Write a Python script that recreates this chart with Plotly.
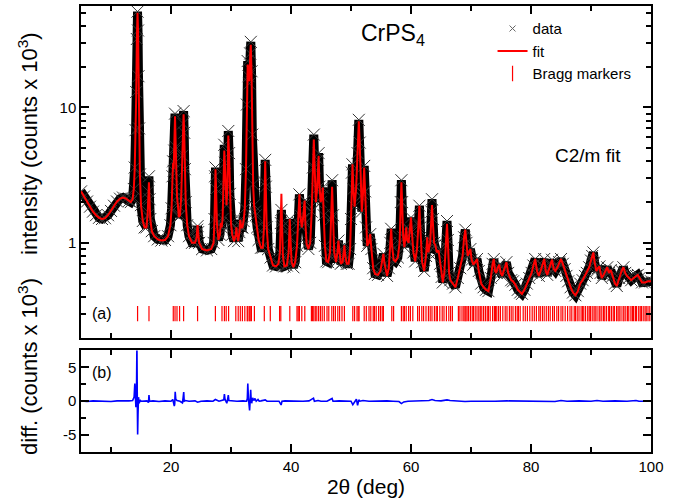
import plotly.graph_objects as go

# ---------------- data ----------------
two_theta = [
    5.0, 5.5, 6.0, 6.5, 7.0, 7.5, 8.0, 8.5, 9.0, 9.5,
    10.0, 10.5, 11.0, 11.5, 12.0, 12.5, 13.0, 13.3, 13.6, 13.8,
    13.95, 14.1, 14.2, 14.3, 14.42, 14.5, 14.58, 14.68, 14.82, 15.0,
    15.3, 15.6, 15.9, 16.1, 16.22, 16.32, 16.42, 16.55, 16.8, 17.2,
    17.8, 18.4, 19.0, 19.5, 19.9, 20.1, 20.25, 20.35, 20.45, 20.55,
    20.67, 20.8, 20.9, 21.0, 21.15, 21.3, 21.5, 21.7, 21.9, 22.0,
    22.1, 22.2, 22.3, 22.45, 22.7, 23.0, 23.5, 24.0, 24.25, 24.35,
    24.43, 24.52, 24.7, 25.2, 26.0, 26.7, 27.1, 27.25, 27.35, 27.42,
    27.52, 27.65, 27.9, 28.15, 28.3, 28.45, 28.6, 28.75, 28.88, 28.98,
    29.1, 29.25, 29.4, 29.55, 29.68, 29.8, 30.0, 30.2, 30.5, 30.8,
    30.9, 31.0, 31.2, 31.4, 31.55, 31.7, 31.9, 32.1, 32.3, 32.5,
    32.65, 32.78, 32.92, 33.05, 33.2, 33.3, 33.42, 33.55, 33.7, 33.85,
    34.0, 34.15, 34.35, 34.6, 35.0, 35.3, 35.5, 35.62, 35.7, 35.8,
    35.95, 36.2, 36.6, 37.0, 37.5, 37.9, 38.15, 38.3, 38.4, 38.5,
    38.65, 38.9, 39.3, 39.6, 39.72, 39.8, 39.9, 40.1, 40.4, 40.7,
    41.0, 41.2, 41.4, 41.55, 41.8, 42.0, 42.15, 42.27, 42.4, 42.6,
    42.9, 43.2, 43.45, 43.65, 43.8, 43.95, 44.15, 44.35, 44.5, 44.6,
    44.75, 44.95, 45.15, 45.3, 45.45, 45.65, 45.9, 46.2, 46.5, 46.7,
    46.85, 47.0, 47.2, 47.5, 47.75, 47.9, 48.05, 48.3, 48.6, 48.8,
    48.9, 49.05, 49.3, 49.6, 49.85, 50.0, 50.15, 50.25, 50.4, 50.6,
    50.85, 51.1, 51.3, 51.45, 51.65, 51.8, 52.0, 52.2, 52.35, 52.5,
    52.7, 52.95, 53.2, 53.4, 53.7, 54.0, 54.5, 54.9, 55.2, 55.4,
    55.6, 56.0, 56.3, 56.55, 56.7, 56.85, 57.1, 57.4, 57.8, 58.1,
    58.3, 58.4, 58.52, 58.7, 58.9, 59.1, 59.2, 59.35, 59.6, 59.8,
    60.0, 60.15, 60.4, 60.7, 61.0, 61.25, 61.4, 61.55, 61.85, 62.2,
    62.5, 62.7, 62.9, 63.2, 63.4, 63.5, 63.65, 63.85, 64.05, 64.3,
    64.6, 64.85, 65.1, 65.3, 65.55, 65.8, 66.0, 66.15, 66.35, 66.55,
    67.0, 67.4, 67.8, 68.2, 68.6, 68.85, 69.05, 69.25, 69.45, 69.6,
    69.9, 70.1, 70.4, 70.7, 71.0, 71.3, 71.7, 72.1, 72.5, 72.9,
    73.3, 73.6, 73.8, 74.0, 74.2, 74.5, 74.7, 74.95, 75.2, 75.6,
    75.9, 76.2, 76.7, 77.0, 77.4, 77.8, 78.2, 78.5, 78.9, 79.3,
    79.7, 80.1, 80.4, 80.7, 81.0, 81.3, 81.6, 81.9, 82.2, 82.45,
    82.7, 83.0, 83.25, 83.5, 83.8, 84.05, 84.4, 84.7, 85.0, 85.3,
    85.6, 85.9, 86.2, 86.6, 87.0, 87.4, 87.8, 88.2, 88.6, 89.0,
    89.3, 89.7, 90.0, 90.2, 90.4, 90.6, 90.9, 91.15, 91.4, 91.6,
    91.8, 92.1, 92.4, 92.7, 93.0, 93.3, 93.6, 94.0, 94.3, 94.7,
    95.1, 95.4, 95.7, 96.0, 96.3, 96.7, 97.1, 97.5, 97.8, 98.1,
    98.5, 99.0, 99.5, 100.0,
]

y_calc = [
    2.40, 2.20, 2.02, 1.85, 1.70, 1.60, 1.53, 1.50, 1.52, 1.60,
    1.72, 1.88, 2.02, 2.12, 2.16, 2.12, 2.04, 2.00, 2.10, 2.50,
    3.5, 6.5, 12.0, 30.0, 50.0, 38.0, 18.0, 7.0, 3.2, 1.9,
    1.45, 1.30, 1.30, 1.60, 2.30, 2.80, 2.10, 1.50, 1.22, 1.12,
    1.06, 1.04, 1.05, 1.12, 1.35, 1.80, 3.0, 3.9, 3.5, 5.0,
    8.6, 5.0, 2.6, 2.2, 1.9, 1.55, 1.6, 2.2, 4.5, 7.5,
    8.9, 6.5, 3.5, 2.0, 1.35, 1.12, 1.0, 1.0, 1.08, 1.25,
    1.35, 1.2, 1.0, 0.90, 0.88, 0.90, 1.0, 1.5, 3.0, 3.5,
    2.5, 1.4, 1.05, 1.15, 1.4, 1.3, 1.5, 2.5, 4.8, 3.8,
    2.2, 1.9, 2.6, 6.2, 4.5, 2.3, 1.4, 1.15, 1.03, 1.15,
    1.3, 1.15, 1.03, 1.2, 1.48, 1.3, 1.3, 1.45, 1.8, 3.5,
    10.0, 20.7, 17.0, 15.6, 24.0, 29.0, 18.0, 6.0, 2.6, 1.9,
    1.65, 1.6, 1.3, 1.05, 0.92, 0.92, 1.3, 2.8, 4.0, 2.6,
    1.3, 0.9, 0.78, 0.68, 0.67, 0.70, 0.85, 1.6, 2.3, 1.4,
    0.8, 0.67, 0.68, 0.85, 1.3, 1.5, 1.1, 0.72, 0.66, 0.72,
    0.95, 1.4, 2.28, 1.6, 1.3, 1.5, 1.9, 2.05, 1.4, 0.98,
    0.9, 1.0, 1.7, 3.5, 5.8, 3.5, 2.0, 2.5, 4.0, 4.4,
    2.6, 2.0, 2.2, 2.56, 1.6, 0.95, 0.73, 0.72, 0.85, 1.5,
    2.6, 1.6, 0.85, 0.72, 0.85, 1.04, 0.85, 0.70, 0.72, 0.85,
    0.96, 0.8, 0.7, 0.70, 0.9, 1.5, 3.3, 3.8, 2.5, 1.85,
    2.5, 5.0, 7.9, 5.5, 2.2, 1.7, 2.3, 3.6, 2.4, 1.3,
    0.95, 1.0, 1.16, 0.9, 0.65, 0.59, 0.58, 0.62, 0.75, 0.83,
    0.70, 0.57, 0.65, 1.0, 1.27, 0.95, 0.75, 0.73, 0.78, 1.0,
    2.0, 2.8, 2.0, 1.1, 0.93, 1.1, 1.3, 1.05, 1.0, 1.25,
    1.54, 1.2, 0.85, 0.73, 0.9, 1.4, 1.88, 1.3, 0.72, 0.62,
    0.8, 1.1, 0.85, 1.0, 1.6, 1.9, 1.4, 1.0, 0.96, 0.85,
    0.88, 0.70, 0.56, 0.51, 0.6, 0.9, 1.38, 1.0, 0.6, 0.53,
    0.5, 0.47, 0.55, 0.65, 0.8, 1.1, 1.25, 1.0, 0.8, 0.83,
    0.9, 0.75, 0.69, 0.72, 0.76, 0.62, 0.5, 0.47, 0.45, 0.44,
    0.55, 0.7, 0.76, 0.62, 0.6, 0.66, 0.69, 0.6, 0.57, 0.65,
    0.72, 0.6, 0.53, 0.52, 0.49, 0.45, 0.43, 0.42, 0.45, 0.5,
    0.55, 0.6, 0.68, 0.76, 0.62, 0.57, 0.62, 0.68, 0.76, 0.62,
    0.58, 0.64, 0.7, 0.75, 0.64, 0.62, 0.66, 0.72, 0.76, 0.7,
    0.64, 0.57, 0.52, 0.47, 0.43, 0.41, 0.44, 0.5, 0.53, 0.57,
    0.6, 0.66, 0.74, 0.80, 0.85, 0.72, 0.62, 0.65, 0.67, 0.6,
    0.55, 0.58, 0.62, 0.66, 0.6, 0.63, 0.57, 0.5, 0.48, 0.55,
    0.62, 0.66, 0.6, 0.57, 0.55, 0.53, 0.55, 0.57, 0.58, 0.55,
    0.51, 0.51, 0.52, 0.52,
]

y_obs = [
    2.40, 2.20, 2.02, 1.85, 1.70, 1.60, 1.53, 1.50, 1.52, 1.60,
    1.72, 1.88, 2.02, 2.12, 2.16, 2.12, 2.04, 2.00, 2.10, 2.50,
    3.6, 6.8, 13.0, 32.0, 51.0, 37.0, 17.0, 7.0, 3.2, 1.9,
    1.45, 1.30, 1.30, 1.60, 2.40, 3.10, 2.10, 1.50, 1.22, 1.12,
    1.06, 1.04, 1.05, 1.12, 1.35, 1.80, 3.1, 4.0, 3.4, 4.8,
    9.0, 5.1, 2.6, 2.2, 1.9, 1.55, 1.6, 2.2, 4.4, 7.6,
    9.4, 6.5, 3.5, 2.0, 1.35, 1.12, 1.0, 1.0, 1.08, 1.25,
    1.33, 1.2, 1.0, 0.90, 0.88, 0.90, 1.0, 1.5, 3.1, 3.6,
    2.5, 1.4, 1.05, 1.15, 1.4, 1.3, 1.5, 2.6, 5.3, 3.9,
    2.2, 1.9, 2.6, 6.7, 4.6, 2.3, 1.4, 1.15, 1.03, 1.15,
    1.3, 1.15, 1.03, 1.2, 1.48, 1.3, 1.3, 1.45, 1.8, 3.5,
    10.5, 22.0, 17.0, 15.0, 25.0, 30.5, 18.5, 6.3, 2.7, 1.9,
    1.7, 1.6, 1.3, 1.05, 0.92, 0.92, 1.3, 2.8, 4.1, 2.6,
    1.3, 0.9, 0.78, 0.68, 0.67, 0.70, 0.85, 1.4, 1.75, 1.3,
    0.8, 0.67, 0.68, 0.85, 1.3, 1.5, 1.1, 0.72, 0.66, 0.72,
    0.95, 1.4, 2.28, 1.6, 1.3, 1.5, 1.9, 2.05, 1.4, 0.98,
    0.9, 1.0, 1.7, 3.6, 6.3, 3.6, 2.0, 2.5, 4.1, 4.6,
    2.6, 2.0, 2.2, 2.56, 1.6, 0.95, 0.73, 0.72, 0.85, 1.5,
    2.9, 1.6, 0.85, 0.72, 0.85, 1.04, 0.85, 0.70, 0.72, 0.85,
    0.96, 0.8, 0.7, 0.70, 0.9, 1.5, 3.3, 3.8, 2.5, 1.85,
    2.6, 4.6, 8.1, 5.5, 2.2, 1.7, 2.3, 3.7, 2.4, 1.3,
    0.95, 1.0, 1.16, 0.9, 0.65, 0.59, 0.58, 0.62, 0.75, 0.83,
    0.70, 0.57, 0.65, 1.0, 1.27, 0.95, 0.75, 0.73, 0.78, 1.0,
    2.0, 2.9, 2.0, 1.1, 0.93, 1.1, 1.3, 1.05, 1.0, 1.25,
    1.54, 1.2, 0.85, 0.73, 0.9, 1.4, 1.88, 1.3, 0.72, 0.62,
    0.8, 1.1, 0.85, 1.0, 1.7, 2.1, 1.5, 1.0, 0.96, 0.85,
    0.88, 0.70, 0.56, 0.51, 0.6, 0.95, 1.45, 1.05, 0.6, 0.53,
    0.5, 0.47, 0.55, 0.65, 0.8, 1.1, 1.25, 1.0, 0.8, 0.83,
    0.9, 0.75, 0.69, 0.72, 0.76, 0.62, 0.5, 0.47, 0.45, 0.44,
    0.55, 0.7, 0.76, 0.62, 0.6, 0.66, 0.69, 0.6, 0.57, 0.65,
    0.72, 0.6, 0.53, 0.52, 0.49, 0.45, 0.43, 0.42, 0.45, 0.5,
    0.55, 0.6, 0.68, 0.76, 0.62, 0.57, 0.62, 0.68, 0.76, 0.62,
    0.58, 0.64, 0.7, 0.75, 0.64, 0.62, 0.66, 0.72, 0.76, 0.7,
    0.64, 0.57, 0.52, 0.47, 0.43, 0.41, 0.44, 0.5, 0.53, 0.57,
    0.6, 0.66, 0.74, 0.80, 0.85, 0.72, 0.62, 0.65, 0.67, 0.6,
    0.55, 0.58, 0.62, 0.66, 0.6, 0.63, 0.57, 0.5, 0.48, 0.55,
    0.62, 0.66, 0.6, 0.57, 0.55, 0.53, 0.55, 0.57, 0.58, 0.55,
    0.51, 0.51, 0.52, 0.52,
]

bragg_pos = [
    14.43, 16.33, 20.38, 20.67, 21.0, 21.43, 22.1, 24.43,
    27.4, 28.5, 28.9, 29.2, 29.6, 30.8, 31.2, 31.55, 31.9, 32.3, 32.7, 32.8,
    33.05, 33.2, 33.4, 33.9, 35.55, 36.55, 38.1, 38.3, 39.8, 41.0, 41.2,
    41.4, 41.8, 42.3, 43.4, 43.6, 43.8, 44.05, 44.3, 44.6, 44.9, 45.2,
    45.55, 46.0, 46.3, 46.8, 47.1, 47.4, 47.8, 48.1, 48.5, 48.9,
    50.3, 50.6, 51.0, 51.2, 51.35, 52.2, 52.55, 53.0, 53.3, 53.7, 53.9,
    54.2, 54.6, 54.9, 55.2, 55.4, 56.8, 57.1, 58.4, 58.7, 58.9, 59.2,
    59.6, 59.9, 60.3, 61.1, 61.4, 61.8, 62.1, 62.5, 62.9, 63.2, 63.5,
    63.9, 64.2, 64.4, 64.8, 65.2, 65.5, 65.9, 66.3, 66.6, 66.9,
    67.9, 68.15, 68.5, 68.8, 69.0, 69.15, 69.35, 69.6, 69.9, 70.2, 70.4,
    70.7, 71.0, 71.3, 71.55, 71.8, 72.1, 72.4, 72.7, 72.9, 73.2, 73.6,
    73.9, 74.1, 74.3, 74.6, 74.9, 75.3, 75.7, 76.0, 76.4, 76.7, 77.0,
    77.4, 77.7, 77.9, 78.2, 78.7, 79.05, 79.4, 79.8, 80.2, 80.55, 80.9,
    81.3, 81.55, 81.9, 82.2, 82.55, 82.9, 83.2, 83.6, 83.9, 84.3, 84.6,
    85.0, 85.3, 85.7, 86.1, 86.5, 86.8, 87.2, 87.4, 87.7, 88.0, 88.35,
    88.6, 88.8, 89.1, 89.45, 89.7, 89.9, 90.2, 90.5, 90.7, 91.0, 91.35,
    91.5, 91.8, 92.1, 92.3, 92.6, 92.95, 93.1, 93.4, 93.7, 93.9, 94.25,
    94.5, 94.7, 95.0, 95.35, 95.5, 95.8, 96.1, 96.3, 96.65, 96.9, 97.1,
    97.4, 97.6, 97.95, 98.2, 98.4, 98.7, 99.0, 99.2, 99.5, 99.8,
]

diff_theta = [
    5.0, 6.0, 7.0, 8.0, 9.0, 10.0, 11.0, 12.0, 13.0, 13.6,
    13.85, 13.97, 14.05, 14.15, 14.25, 14.32, 14.38, 14.44, 14.5, 14.58,
    14.7, 14.85, 15.0, 16.0, 16.25, 16.33, 16.42, 17.0, 18.0, 19.0,
    20.0, 20.3, 20.55, 20.62, 20.7, 20.8, 21.0, 21.5, 21.9, 22.02,
    22.12, 22.2, 22.4, 23.0, 24.0, 24.43, 25.0, 26.0, 27.0, 27.4,
    28.0, 28.8, 28.9, 29.0, 29.3, 29.42, 29.55, 29.65, 30.0, 31.0,
    32.0, 32.6, 32.72, 32.8, 32.9, 33.0, 33.1, 33.2, 33.28, 33.35,
    33.45, 33.6, 33.8, 34.0, 34.2, 34.5, 34.7, 35.0, 35.7, 36.0,
    37.0, 38.0, 38.35, 38.5, 39.0, 40.0, 41.0, 42.0, 43.0, 43.75,
    43.9, 44.5, 45.0, 46.0, 46.85, 47.0, 48.0, 49.0, 50.0, 50.3,
    50.5, 50.9, 51.1, 51.3, 51.5, 52.0, 53.0, 54.0, 55.0, 56.0,
    57.0, 58.0, 58.4, 58.8, 59.5, 60.0, 61.0, 62.0, 63.0, 63.5,
    64.0, 65.0, 66.0, 66.5, 67.0, 68.0, 69.0, 70.0, 72.0, 74.0,
    76.0, 78.0, 80.0, 82.0, 84.0, 85.0, 86.0, 88.0, 90.0, 91.0,
    92.0, 94.0, 96.0, 97.5, 98.0, 100.0,
]

diff_vals = [
    0.05, -0.05, 0.05, 0.0, 0.05, -0.05, 0.05, 0.0, 0.05, 0.1,
    0.6, 2.6, 0.6, -0.9, 1.2, 8.5, 0.5, -4.9, -2.0, 0.6,
    -0.3, 0.2, 0.0, 0.05, -0.2, 0.9, 0.0, 0.05, -0.05, 0.05,
    0.0, 0.25, -0.7, -0.4, 1.4, 0.3, 0.1, 0.0, -0.25, 0.5,
    1.35, 0.0, 0.1, 0.0, 0.05, -0.15, 0.0, 0.05, 0.0, 0.25,
    0.0, 0.2, 1.05, 0.3, -0.3, 0.2, 0.9, 0.1, 0.05, 0.0,
    0.05, 0.0, 0.4, 2.6, 0.5, -0.4, -1.35, 0.2, 1.7, 0.3,
    -0.3, 0.5, 0.1, 0.4, 0.0, 0.25, 0.0, 0.05, 0.2, 0.0,
    0.05, 0.0, -0.55, 0.0, 0.05, 0.0, 0.05, 0.0, 0.05, 0.45,
    0.0, 0.1, 0.0, 0.0, 0.4, 0.0, 0.05, 0.0, 0.0, -0.5,
    -0.2, 0.3, -0.6, 0.2, 0.0, 0.1, 0.0, 0.05, 0.0, 0.05,
    0.0, -0.05, -0.35, -0.1, 0.0, 0.0, 0.05, 0.0, 0.1, 0.25,
    0.1, 0.05, 0.2, 0.1, 0.05, 0.0, -0.05, 0.0, -0.05, 0.0,
    0.05, 0.0, 0.05, 0.0, -0.05, 0.1, 0.0, 0.05, 0.0, 0.1,
    0.0, 0.05, 0.0, 0.1, 0.0, 0.0,
]

x_tick_vals = [20, 40, 60, 80, 100]
y_log_tick_vals = [1, 10]
y_log_tick_text = ["1", "10"]
y_log_minor_vals = [0.2, 0.3, 0.4, 0.5, 0.6, 0.7, 0.8, 0.9,
                    2, 3, 4, 5, 6, 7, 8, 9, 20, 30, 40, 50]
y_diff_tick_vals = [-5, 0, 5]
y_diff_tick_text = ["-5", "0", "5"]
y_diff_minor_vals = [-2.5, 2.5]

bragg_row = 0.30

# ---------------- figure ----------------
FONT = "Liberation Sans, Arial, Helvetica, sans-serif"

fig = go.Figure()

# legend-only entry for the data
fig.add_trace(go.Scatter(
    x=[None], y=[None], mode="markers", name="data",
    marker=dict(symbol="x-thin", size=6, color="#666",
                line=dict(width=1, color="#666")),
    xaxis="x2", yaxis="y2"))

# observed data (dense band of crosses)
fig.add_trace(go.Scatter(
    x=two_theta, y=y_obs, mode="lines+markers", showlegend=False,
    line=dict(color="#000", width=9),
    marker=dict(symbol="x-thin", size=12, color="#333",
                line=dict(width=1, color="#333")),
    xaxis="x2", yaxis="y2", hoverinfo="skip"))

# fit
fig.add_trace(go.Scatter(
    x=two_theta, y=y_calc, mode="lines", name="fit",
    line=dict(color="#ff0000", width=2),
    xaxis="x2", yaxis="y2"))

# Bragg markers
fig.add_trace(go.Scatter(
    x=bragg_pos, y=[bragg_row] * len(bragg_pos), mode="markers",
    name="Bragg markers",
    marker=dict(symbol="line-ns", size=11, color="#ff0000",
                line=dict(width=1.2, color="#ff0000")),
    xaxis="x2", yaxis="y2"))

# difference
fig.add_trace(go.Scatter(
    x=diff_theta, y=diff_vals, mode="lines", showlegend=False,
    line=dict(color="#0000ff", width=1.6),
    xaxis="x", yaxis="y"))

axis_common = dict(
    showline=True, linecolor="black", linewidth=1.5,
    ticks="inside", tickcolor="black", tickwidth=1.5,
    mirror="ticks", showgrid=False, zeroline=False,
    tickfont=dict(size=15, color="black", family=FONT),
)

top_dom = [0.2567, 1.0]
bot_dom = [0.0, 0.2277]

fig.update_layout(
    width=683, height=504,
    margin=dict(l=81, r=32, t=4, b=52),
    paper_bgcolor="white", plot_bgcolor="white",
    font=dict(family=FONT, color="black", size=15),
    showlegend=True,
    legend=dict(x=0.722, y=0.986, xanchor="left", yanchor="top",
                bgcolor="rgba(0,0,0,0)", font=dict(size=15),
                tracegroupgap=0, itemsizing="trace"),
    xaxis=dict(
        **axis_common, domain=[0, 1], anchor="y", range=[5, 100],
        tickmode="array", tickvals=x_tick_vals, ticklen=8,
        minor=dict(dtick=10, tick0=0, ticks="inside", ticklen=5,
                   tickwidth=1.5, tickcolor="black"),
        title=dict(text="2θ (deg)", font=dict(size=21), standoff=6),
    ),
    xaxis2=dict(
        **axis_common, domain=[0, 1], anchor="y2", range=[5, 100],
        matches="x", showticklabels=False,
        tickmode="array", tickvals=x_tick_vals, ticklen=8,
        minor=dict(dtick=10, tick0=0, ticks="inside", ticklen=5,
                   tickwidth=1.5, tickcolor="black"),
    ),
    yaxis=dict(
        **axis_common, domain=bot_dom, anchor="x", range=[-7.5, 7.5],
        tickmode="array", tickvals=y_diff_tick_vals,
        ticktext=y_diff_tick_text, ticklen=8,
        minor=dict(tickmode="array", tickvals=y_diff_minor_vals,
                   ticks="inside", ticklen=5, tickwidth=1.5,
                   tickcolor="black"),
    ),
    yaxis2=dict(
        **axis_common, domain=top_dom, anchor="x2", type="log",
        range=[-0.699, 1.749],
        tickmode="array", tickvals=y_log_tick_vals,
        ticktext=y_log_tick_text, ticklen=8,
        minor=dict(tickmode="array", tickvals=y_log_minor_vals,
                   ticks="inside", ticklen=5, tickwidth=1.5,
                   tickcolor="black"),
    ),
)

def note(text, x, y, size, angle=0):
    return dict(text=text, x=x, y=y, xref="paper", yref="paper",
                xanchor="center", yanchor="middle", showarrow=False,
                textangle=angle, font=dict(size=size))

annotations = [
    note("CrPS<sub>4</sub>", 0.548, 0.935, 23),
    note("C2/m fit", 0.889, 0.665, 19),
    note("(a)", 0.037, 0.310, 16),
    note("(b)", 0.037, 0.179, 16),
    note("intensity (counts x 10<sup>3</sup>)", -0.092, 0.692, 22, -90),
    note("diff. (counts x 10<sup>3</sup>)", -0.092, 0.192, 22, -90),
]
fig.update_layout(annotations=annotations)

fig.write_html("out.html",
               config={"displayModeBar": False},
               post_script="document.body.style.margin='0px';")
